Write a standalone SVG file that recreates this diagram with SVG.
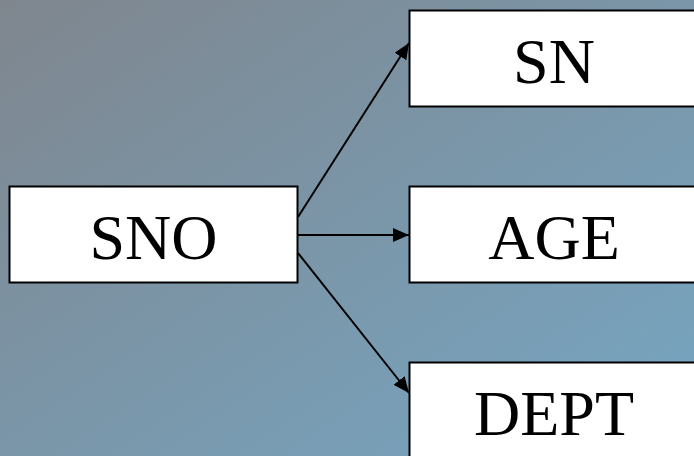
<svg xmlns="http://www.w3.org/2000/svg" width="694" height="456" viewBox="0 0 694 456">
<defs>
<linearGradient id="bg" x1="0" y1="0" x2="1" y2="1">
<stop offset="0" stop-color="#7f868e"/>
<stop offset="1" stop-color="#76a6c3"/>
</linearGradient>
<marker id="ah" viewBox="0 0 16 14" refX="16" refY="7" markerWidth="16" markerHeight="14" markerUnits="userSpaceOnUse" orient="auto">
<path d="M0,0 L16,7 L0,14 Z" fill="#000"/>
</marker>
</defs>
<style>
.box{fill:#fff;stroke:#000;stroke-width:2}
.lbl{font-family:'Liberation Serif',serif;font-size:64px;fill:#000;text-anchor:middle}
.edge{stroke:#000;stroke-width:2;fill:none;marker-end:url(#ah)}
</style>
<rect width="694" height="456" fill="url(#bg)"/>
<g id="connectors">
<line class="edge" x1="298" y1="217" x2="409" y2="43"/>
<line class="edge" x1="298" y1="235" x2="409" y2="235"/>
<line class="edge" x1="298" y1="253" x2="409" y2="393"/>
</g>
<g id="SNO">
<rect class="box" x="9.5" y="186.5" width="288" height="96"/>
<text class="lbl" x="153.5" y="259" font-family="Liberation Serif">SNO</text>
</g>
<g id="SN">
<rect class="box" x="409.5" y="10.5" width="289" height="96"/>
<text class="lbl" x="554" y="83" font-family="Liberation Serif">SN</text>
</g>
<g id="AGE">
<rect class="box" x="409.5" y="186.5" width="289" height="96"/>
<text class="lbl" x="554" y="259" font-family="Liberation Serif">AGE</text>
</g>
<g id="DEPT">
<rect class="box" x="409.5" y="362.5" width="289" height="96"/>
<text class="lbl" x="554" y="435" font-family="Liberation Serif">DEPT</text>
</g>
</svg>
